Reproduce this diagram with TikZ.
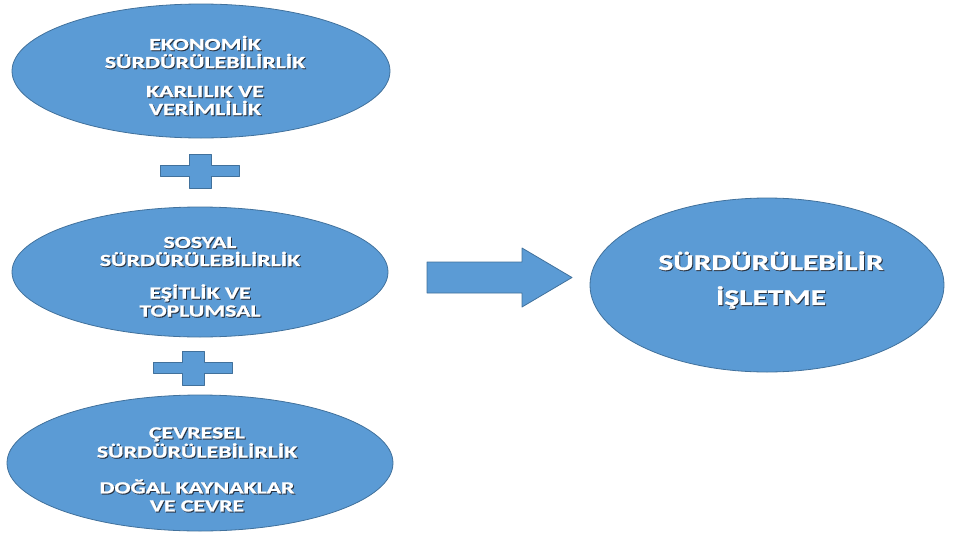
\documentclass[tikz,border=0pt]{standalone}
\usepackage{fontspec}
\newfontfamily\lblfont[FakeStretch=1.4,BoldFeatures={FakeBold=1.2}]{Carlito}
\usetikzlibrary{calc}
\usetikzlibrary{shapes.geometric}

\definecolor{dolgu}{RGB}{91,155,213}
\definecolor{kenar}{RGB}{65,113,156}
\definecolor{golge}{RGB}{40,50,65}

% golgeli beyaz yazi
\newcommand{\gl}[1]{\rlap{\raisebox{-1pt}{\hspace{1pt}\color{golge}#1}}#1}

\tikzset{
  elips/.style={ellipse, fill=dolgu, draw=kenar, line width=0.8pt, inner sep=0pt},
  blok/.style={fill=dolgu, draw=kenar, line width=0.8pt, line join=round},
  yazi/.style={text=white, align=center, inner sep=0pt,
    font=\lblfont\bfseries\fontsize{17}{18}\selectfont},
  buyukyazi/.style={yazi, font=\lblfont\bfseries\fontsize{22.4}{35}\selectfont},
  arti/.pic={
    \draw[blok] (-39.5,-5.5) -- (-11,-5.5) -- (-11,-17) -- (11,-17) -- (11,-5.5)
      -- (39.5,-5.5) -- (39.5,5.5) -- (11,5.5) -- (11,17) -- (-11,17)
      -- (-11,5.5) -- (-39.5,5.5) -- cycle;
  }
}

\begin{document}
\begin{tikzpicture}[x=1pt,y=-1pt]
  \useasboundingbox (0,0) rectangle (964,533);
  % elipsler
  \node[elips, minimum width=378pt, minimum height=134pt] (eko) at (201,71) {};
  \node[elips, minimum width=376pt, minimum height=130pt] (sos) at (200,272) {};
  \node[elips, minimum width=386pt, minimum height=136pt] (cev) at (200,463) {};
  \node[elips, minimum width=354pt, minimum height=174pt] (isl) at (767,285) {};
  % yazilar
  \node[yazi] (eko-ust) at (205,52.5) {\gl{EKONOMİK}\\\gl{SÜRDÜRÜLEBİLİRLİK}};
  \node[yazi] (eko-alt) at (205,101) {\gl{KARLILIK VE}\\\gl{VERİMLİLİK}};
  \node[yazi] (sos-ust) at (200,252) {\gl{SOSYAL}\\\gl{SÜRDÜRÜLEBİLİRLİK}};
  \node[yazi] (sos-alt) at (200,301) {\gl{EŞİTLİK VE}\\\gl{TOPLUMSAL}};
  \node[yazi] (cev-ust) at (197,443) {\gl{ÇEVRESEL}\\\gl{SÜRDÜRÜLEBİLİRLİK}};
  \node[yazi] (cev-alt) at (197,496) {\gl{DOĞAL KAYNAKLAR}\\\gl{VE CEVRE}};
  \node[buyukyazi] (isl-yazi) at (771,280.5) {\gl{SÜRDÜRÜLEBİLİR}\\\gl{İŞLETME}};
  % arti isaretleri
  \pic at (200,171) {arti};
  \pic at (193,368) {arti};
  % ok
  \draw[blok] (427,262) -- (522,262) -- (522,248) -- (572,277.5) -- (522,307)
    -- (522,293) -- (427,293) -- cycle;
\end{tikzpicture}
\end{document}
